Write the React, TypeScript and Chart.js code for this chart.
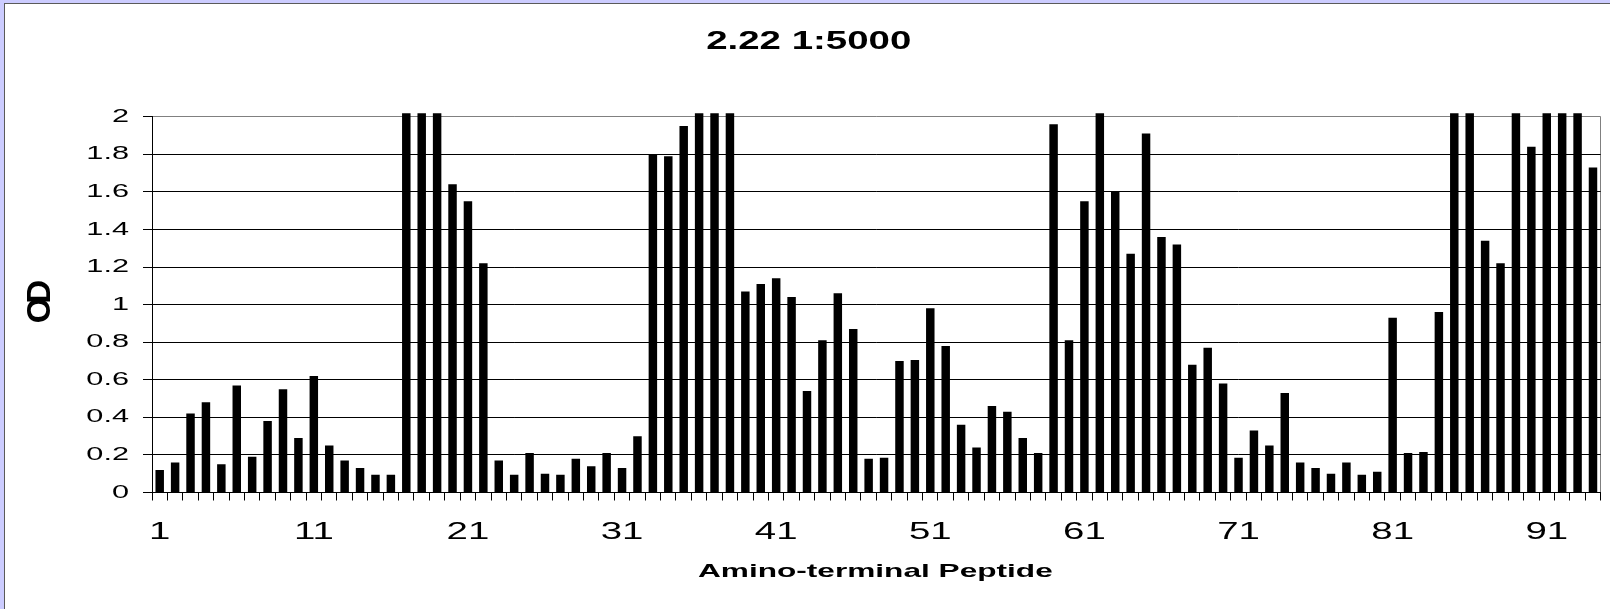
import React, { useEffect, useRef } from 'react';
import { Chart, registerables } from 'chart.js';

Chart.register(...registerables);

// Peptide numbers along the x axis
const peptides: number[] = [
  1, 2, 3, 4, 5, 6, 7, 8, 9, 10, 11, 12, 13, 14, 15, 16, 17, 18, 19, 20,
  21, 22, 23, 24, 25, 26, 27, 28, 29, 30, 31, 32, 33, 34, 35, 36, 37, 38, 39, 40,
  41, 42, 43, 44, 45, 46, 47, 48, 49, 50, 51, 52, 53, 54, 55, 56, 57, 58, 59, 60,
  61, 62, 63, 64, 65, 66, 67, 68, 69, 70, 71, 72, 73, 74, 75, 76, 77, 78, 79, 80,
  81, 82, 83, 84, 85, 86, 87, 88, 89, 90, 91, 92, 93, 94,
];

// OD readings (values above 2 run off the top of the scale)
const odValues: number[] = [
  0.12, 0.16, 0.42, 0.48, 0.15, 0.57, 0.19, 0.38, 0.55, 0.29,
  0.62, 0.25, 0.17, 0.13, 0.095, 0.095, 2.1, 2.1, 2.1, 1.64,
  1.55, 1.22, 0.17, 0.095, 0.21, 0.1, 0.095, 0.18, 0.14, 0.21,
  0.13, 0.3, 1.8, 1.79, 1.95, 2.1, 2.1, 2.1, 1.07, 1.11,
  1.14, 1.04, 0.54, 0.81, 1.06, 0.87, 0.18, 0.185, 0.7, 0.705,
  0.98, 0.78, 0.36, 0.24, 0.46, 0.43, 0.29, 0.21, 1.96, 0.81,
  1.55, 2.1, 1.6, 1.27, 1.91, 1.36, 1.32, 0.68, 0.77, 0.58,
  0.185, 0.33, 0.25, 0.53, 0.16, 0.13, 0.1, 0.16, 0.095, 0.11,
  0.93, 0.21, 0.215, 0.96, 2.1, 2.1, 1.34, 1.22, 2.1, 1.84,
  2.1, 2.1, 2.1, 1.73,
];

// Labelled x ticks
const xTickLabels: string[] = ['1', '11', '21', '31', '41', '51', '61', '71', '81', '91'];

// Y axis range
const yMin = 0;
const yMax = 2;
const yStep = 0.2;

const chartTitle = '2.22 1:5000';
const xAxisTitle = 'Amino-terminal Peptide';
const yAxisTitle = 'OD';

const FAMILY = "'Liberation Sans', Arial, Helvetica, sans-serif";

export default function App() {
  const canvasRef = useRef<HTMLCanvasElement | null>(null);

  useEffect(() => {
    document.body.style.margin = '0';
    const canvas = canvasRef.current;
    if (!canvas) return;

    // The original figure's text is widened horizontally; reproduce that by
    // stretching each drawn string about its own anchor point.
    const textStyle = {
      id: 'textStretch',
      afterUpdate(chart: any) {
        const stretch = (obj: any, key: string, sx: number, dx: number) => {
          if (!obj || typeof obj[key] !== 'function' || obj['__st_' + key]) return;
          const orig = obj[key].bind(obj);
          obj[key] = (...args: any[]) => {
            const c = chart.ctx;
            const protoFill = c.fillText;
            c.fillText = function (...fa: any[]) {
              const m = c.getTransform();
              const p = m.transformPoint(new DOMPoint(fa[1], fa[2]));
              const s = new DOMMatrix()
                .translate(p.x + dx, p.y)
                .scale(sx, 1)
                .translate(-p.x, -p.y)
                .multiply(m);
              c.setTransform(s);
              protoFill.apply(c, fa);
              c.setTransform(m);
            };
            try {
              orig(...args);
            } finally {
              delete c.fillText;
            }
          };
          obj['__st_' + key] = true;
        };
        const spaced = (obj: any, key: string, spacing: string) => {
          if (!obj || typeof obj[key] !== 'function' || obj['__ls_' + key]) return;
          const orig = obj[key].bind(obj);
          obj[key] = (...args: any[]) => {
            const c = chart.ctx;
            c.save();
            try { c.letterSpacing = spacing; } catch (e) { /* ignore */ }
            orig(...args);
            c.restore();
          };
          obj['__ls_' + key] = true;
        };
        stretch(chart.scales.x, 'drawLabels', 1.6, 0);
        stretch(chart.scales.x, 'drawTitle', 1.7, -1);
        stretch(chart.scales.y, 'drawLabels', 1.65, 0);
        spaced(chart.scales.y, 'drawTitle', '-6px');
        stretch(chart.titleBlock, 'draw', 1.45, 4.5);
      },
    };

    const chart = new Chart(canvas, {
      type: 'bar',
      data: {
        labels: peptides.map(String),
        datasets: [
          {
            data: odValues,
            backgroundColor: '#000000',
            borderWidth: 0,
            barPercentage: 0.55,
            categoryPercentage: 1,
            clip: { left: 0, top: 3.5, right: 0, bottom: 0 },
          } as any,
        ],
      },
      options: {
        animation: false,
        responsive: false,
        maintainAspectRatio: false,
        devicePixelRatio: 1,
        events: [],
        layout: { padding: { left: 0, right: 1.5, top: 0, bottom: 0 } },
        plugins: {
          legend: { display: false },
          tooltip: { enabled: false },
          title: {
            display: true,
            text: chartTitle,
            color: '#000000',
            font: { family: FAMILY, size: 26.5, weight: 'bold' },
            padding: { top: 26, bottom: 58.9 },
          },
        },
        scales: {
          x: {
            type: 'category',
            offset: true,
            afterFit: (scale: any) => { scale.height = 116.5; },
            grid: {
              offset: true,
              drawOnChartArea: true,
              drawTicks: true,
              tickLength: 8,
              color: (ctx: any) => (ctx.tick ? 'rgba(0,0,0,0)' : '#808080'),
              tickColor: '#000000',
              lineWidth: 1,
            },
            border: { display: true, color: '#000000', width: 1 },
            ticks: {
              autoSkip: false,
              maxRotation: 0,
              minRotation: 0,
              padding: 17,
              color: '#000000',
              font: { family: FAMILY, size: 24 },
              callback: (_v: any, idx: number) => {
                const lab = String(peptides[idx]);
                return xTickLabels.includes(lab) ? lab : '';
              },
            },
            title: {
              display: true,
              text: xAxisTitle,
              color: '#000000',
              font: { family: FAMILY, size: 18.6, weight: 'bold' },
              padding: { top: 0, bottom: 26 },
            },
          },
          y: {
            min: yMin,
            max: yMax,
            afterFit: (scale: any) => { scale.width = 152; },
            grid: {
              drawTicks: true,
              tickLength: 9,
              color: (ctx: any) => (ctx.tick && ctx.tick.value === yMax ? '#808080' : '#000000'),
              tickColor: '#000000',
              lineWidth: 1,
            },
            border: { display: true, color: '#000000', width: 1 },
            ticks: {
              stepSize: yStep,
              padding: 14,
              color: '#000000',
              font: { family: FAMILY, size: 18.6 },
              callback: (v: any) => String(Math.round(Number(v) * 10) / 10),
            },
            title: {
              display: true,
              text: yAxisTitle,
              color: '#000000',
              font: { family: FAMILY, size: 33, weight: 'bold' },
              padding: { top: 21, bottom: 0 },
            },
          },
        },
      },
      plugins: [textStyle as any],
    } as any);

    return () => chart.destroy();
  }, []);

  return (
    <div style={{ position: 'relative', width: 1610, height: 609, background: '#ccccff', overflow: 'hidden' }}>
      <div
        style={{
          position: 'absolute',
          left: 4,
          top: 3,
          right: 0,
          bottom: 0,
          background: '#ffffff',
          borderLeft: '1px solid #5a5a5a',
          borderTop: '1px solid #5a5a5a',
        }}
      />
      <canvas
        ref={canvasRef}
        width={1610}
        height={609}
        style={{ position: 'absolute', left: 0, top: 0, width: 1610, height: 609 }}
      />
    </div>
  );
}
